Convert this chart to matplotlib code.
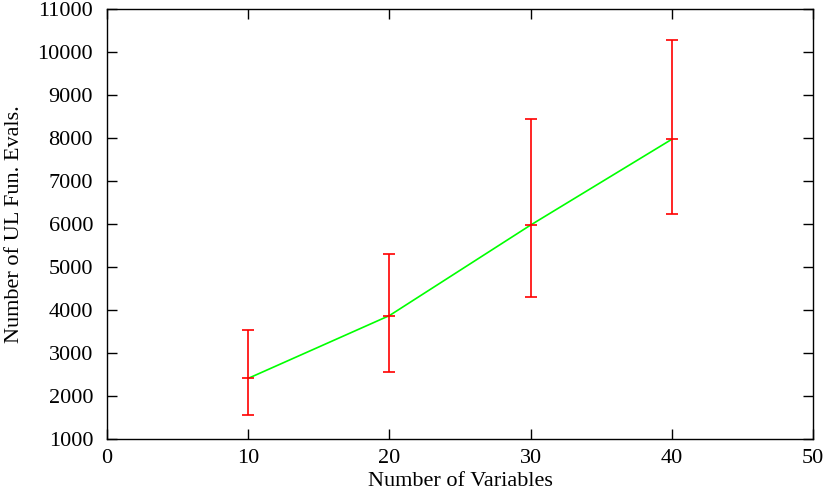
import matplotlib
matplotlib.use("Agg")
import matplotlib.pyplot as plt

n_vars = [10, 20, 30, 40]
mean_evals = [2410, 3870, 5975, 7970]
err_low = [1565, 2565, 4310, 6225]
err_high = [3545, 5300, 8440, 10280]

plt.rcParams['font.family'] = ['Liberation Serif', 'DejaVu Serif']
fig = plt.figure(figsize=(8.3, 4.94), dpi=100)
ax = fig.add_axes([107/830, 1-439/494, (813-107)/830, (439-9)/494])

yerr = [[m - l for m, l in zip(mean_evals, err_low)],
        [h - m for m, h in zip(mean_evals, err_high)]]
ax.plot(n_vars, mean_evals, color='#00ff00', lw=1.2, zorder=2)
ax.errorbar(n_vars, mean_evals, yerr=yerr, fmt='none', ecolor='#ff0000',
            elinewidth=1.2, capsize=4, capthick=1.2, zorder=3)
ax.plot(n_vars, mean_evals, ls='none', marker='_', ms=8, mew=1.2, color='#ff0000', zorder=3)

ax.set_xlim(0, 50)
ax.set_ylim(1000, 11000)
ax.set_xticks(range(0, 51, 10))
ax.set_yticks(range(1000, 11001, 1000))
ax.tick_params(direction='in', length=7, width=1, top=True, right=True,
               labelsize=16)
ax.tick_params(axis='y', pad=10)
ax.tick_params(axis='x', pad=7)
for s in ax.spines.values():
    s.set_linewidth(1)
ax.set_xlabel('Number of Variables', fontsize=16, labelpad=3)
ax.set_ylabel('Number of UL Fun. Evals.', fontsize=16, labelpad=10)
fig.savefig('out.png', dpi=100)
